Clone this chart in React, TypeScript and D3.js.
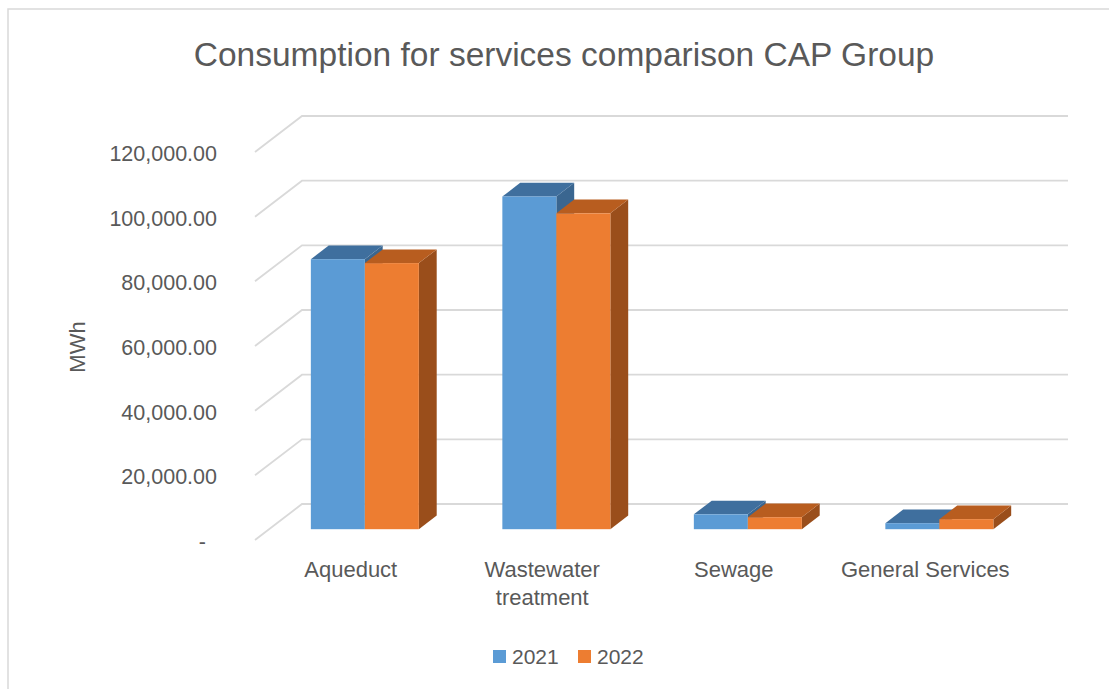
import React from "react";
import * as d3 from "d3";

const categories: string[][] = [["Aqueduct"], ["Wastewater", "treatment"], ["Sewage"], ["General Services"]];
const categoryKeys = ["Aqueduct", "Wastewater treatment", "Sewage", "General Services"];
const seriesNames = ["2021", "2022"];
const values2021 = [83500, 102900, 4600, 1850];
const values2022 = [82300, 97700, 3700, 3100];
const yTicks = [0, 20000, 40000, 60000, 80000, 100000, 120000];
const titleText = "Consumption for services comparison CAP Group";
const yAxisTitle = "MWh";

const colors = {
  "2021": { front: "#5B9BD5", top: "#3F6F9E", side: "#3A6690" },
  "2022": { front: "#ED7D31", top: "#B85D1F", side: "#9A4E1B" },
};

const W = 1109;
const H = 689;
const FONT = "'Liberation Sans', Arial, sans-serif";
const TEXT = "#595959";
const GRID = "#D9D9D9";

// oblique depth
const DX = 47;
const DY = -36;
const F0 = 0.3; // bar front depth fraction
const F1 = 0.68; // bar back depth fraction

export default function App() {
  const x = d3.scaleBand<string>().domain(categoryKeys).range([255, 1021]);
  const y = d3.scaleLinear().domain([0, 120000]).range([540, 152]);
  const xs = d3.scaleBand<string>().domain(seriesNames).range([0, 108]);
  const fmt = (v: number) => (v === 0 ? "-" : d3.format(",.2f")(v));
  const seriesValues: Record<string, number[]> = { "2021": values2021, "2022": values2022 };

  const bars: React.ReactNode[] = [];
  categoryKeys.forEach((c, i) => {
    const cx = (x(c) as number) + x.bandwidth() / 2;
    seriesNames.forEach((s) => {
      const v = seriesValues[s][i];
      const col = (colors as any)[s];
      const x0 = cx - 54 + (xs(s) as number) + F0 * DX;
      const x1 = x0 + xs.bandwidth();
      const yb = y(0) + F0 * DY;
      const yt = y(v) + F0 * DY;
      const ddx = (F1 - F0) * DX;
      const ddy = (F1 - F0) * DY;
      bars.push(
        <g key={c + s}>
          <polygon
            points={`${x1},${yt} ${x1 + ddx},${yt + ddy} ${x1 + ddx},${yb + ddy} ${x1},${yb}`}
            fill={col.side}
          />
          <polygon
            points={`${x0},${yt} ${x0 + ddx},${yt + ddy} ${x1 + ddx},${yt + ddy} ${x1},${yt}`}
            fill={col.top}
          />
          <rect x={x0} y={yt} width={x1 - x0} height={yb - yt} fill={col.front} />
        </g>
      );
    });
  });

  return (
    <svg width={W} height={H} style={{ position: "absolute", left: 0, top: 0 }}>
      <rect x={0} y={0} width={W} height={H} fill="#fff" />
      <rect x={8} y={9} width={W + 20} height={H + 20} fill="#fff" stroke="#D9D9D9" strokeWidth={1.5} />
      <text x={564} y={66} textAnchor="middle" fontFamily={FONT} fontSize={33.5} fill={TEXT}>
        {titleText}
      </text>
      {yTicks.map((t) => (
        <g key={t}>
          <polyline
            points={`${255},${y(t)} ${255 + DX},${y(t) + DY} ${1021 + DX},${y(t) + DY}`}
            fill="none"
            stroke={GRID}
            strokeWidth={1.8}
          />
          <text
            x={t === 0 ? 206 : 217}
            y={y(t) + 9}
            textAnchor="end"
            fontFamily={FONT}
            fontSize={21.5}
            fill={TEXT}
          >
            {fmt(t)}
          </text>
        </g>
      ))}
      {bars}
      {categoryKeys.map((c, i) => (
        <text
          key={c}
          x={(x(c) as number) + x.bandwidth() / 2}
          y={577}
          textAnchor="middle"
          fontFamily={FONT}
          fontSize={22}
          fill={TEXT}
        >
          {categories[i].map((line, j) => (
            <tspan key={j} x={(x(c) as number) + x.bandwidth() / 2} dy={j === 0 ? 0 : 28}>
              {line}
            </tspan>
          ))}
        </text>
      ))}
      <text
        transform={`translate(85,347) rotate(-90)`}
        textAnchor="middle"
        fontFamily={FONT}
        fontSize={22}
        fill={TEXT}
      >
        {yAxisTitle}
      </text>
      {seriesNames.map((s, i) => {
        const lx = 493 + i * 85;
        return (
          <g key={s}>
            <rect x={lx} y={650} width={13} height={13} fill={(colors as any)[s].front} />
            <text x={lx + 19} y={664} fontFamily={FONT} fontSize={21} fill={TEXT}>
              {s}
            </text>
          </g>
        );
      })}
    </svg>
  );
}
